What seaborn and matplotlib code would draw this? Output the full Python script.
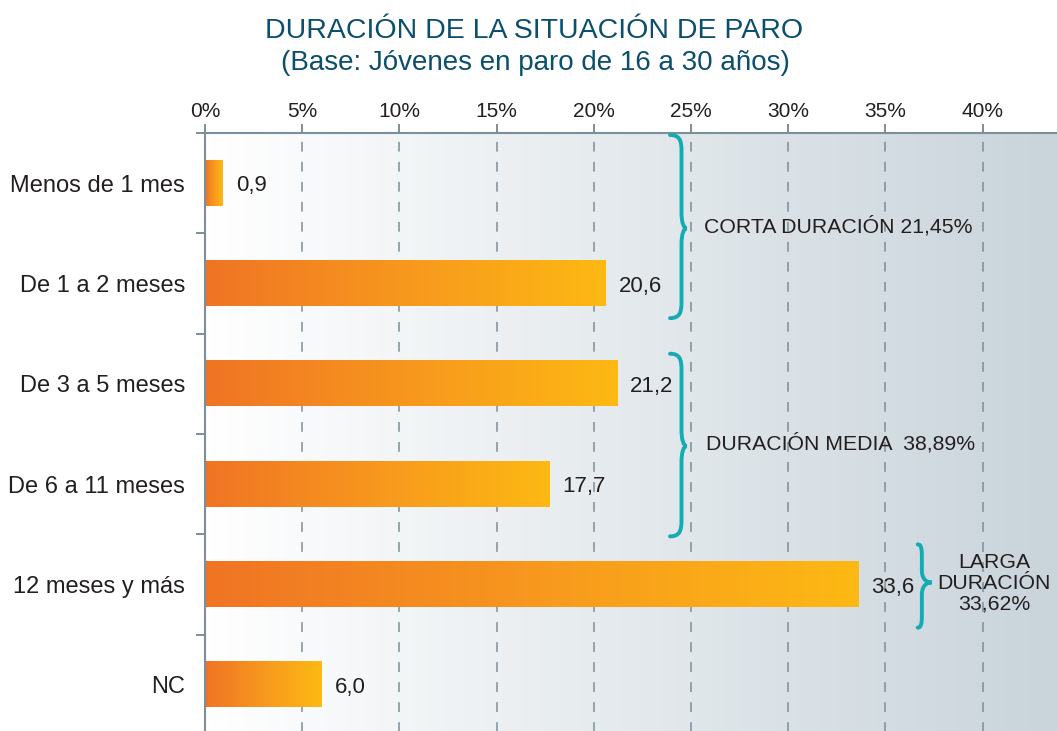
import numpy as np
import pandas as pd
import matplotlib
matplotlib.use("Agg")
import matplotlib.pyplot as plt
import seaborn as sns
from matplotlib.colors import LinearSegmentedColormap
from matplotlib.path import Path
from matplotlib.patches import PathPatch

# ---------------- data ----------------
categories = ["Menos de 1 mes", "De 1 a 2 meses", "De 3 a 5 meses",
              "De 6 a 11 meses", "12 meses y más", "NC"]
values = [0.9, 20.6, 21.2, 17.7, 33.6, 6.0]
x_ticks = [0, 5, 10, 15, 20, 25, 30, 35, 40]
x_tick_labels = ["0%", "5%", "10%", "15%", "20%", "25%", "30%", "35%", "40%"]
group_names = ["CORTA DURACIÓN", "DURACIÓN MEDIA", "LARGA\nDURACIÓN"]
group_pcts = [21.45, 38.89, 33.62]
title = "DURACIÓN DE LA SITUACIÓN DE PARO"
subtitle = "(Base: Jóvenes en paro de 16 a 30 años)"

# ---------------- style ----------------
sns.set_theme(style="white")
plt.rcParams['font.family'] = ['Liberation Sans', 'DejaVu Sans']

TEXT = "#231f20"
SPINE = "#7b8e9a"
TEAL = "#14abb2"
TITLE_C = "#0b4f6c"

W, H = 1057, 731
PX_PER_PCT = 19.44
fig = plt.figure(figsize=(W / 100, H / 100), dpi=100)
fig.patch.set_facecolor("white")
ax = fig.add_axes([205 / W, -4 / H, (W - 205) / W, (H - 133 + 4) / H])

df = pd.DataFrame({"cat": categories, "val": values})
sns.barplot(data=df, y="cat", x="val", orient="h", width=0.45, ax=ax,
            color="#f79a1d", zorder=3, saturation=1)

xmax = (W - 205) / PX_PER_PCT

# gradient bars
bar_cmap = LinearSegmentedColormap.from_list("bar", ["#f07424", "#f7981e", "#fdb913"])
grad = np.linspace(0, 1, 256).reshape(1, -1)
for p in list(ax.patches):
    x, y = p.get_x(), p.get_y()
    w, h = p.get_width(), p.get_height()
    ax.imshow(grad, cmap=bar_cmap, extent=[x, x + w, y + h, y], aspect="auto",
              zorder=3, interpolation="bicubic")
    p.set_visible(False)

# background gradient
bg_cmap = LinearSegmentedColormap.from_list("bg", ["#ffffff", "#c9d4db"])
ax.imshow(grad, cmap=bg_cmap, extent=[0, xmax, 5.5, -0.5], aspect="auto",
          zorder=0, interpolation="bicubic")

# grid
for xv in x_ticks[1:]:
    ax.axvline(xv, color=SPINE, lw=1.1, linestyle=(0, (6.4, 6.7)), zorder=1)

# value labels
for i, v in enumerate(values):
    ax.annotate(f"{v:.1f}".replace(".", ","), xy=(v, i), xytext=(9.5, -2),
                textcoords="offset points", va="center", ha="left",
                fontsize=16, color=TEXT, zorder=4)

# axes styling
ax.set_xlim(0, xmax)
ax.set_ylim(5.5, -0.5)
ax.set_xlabel("")
ax.set_ylabel("")
ax.xaxis.tick_top()
ax.set_xticks(x_ticks)
ax.set_xticklabels(x_tick_labels)
ax.tick_params(axis="x", which="major", top=True, bottom=False, length=6.5,
               width=1.4, color=SPINE, pad=2, labelsize=15, labelcolor=TEXT)
ax.set_yticks(range(len(categories)))
ax.set_yticklabels(categories)
ax.tick_params(axis="y", which="major", left=False, length=0, pad=14.4,
               labelsize=17, labelcolor=TEXT)
ax.set_yticks(np.arange(-0.5, len(categories) - 1, 1), minor=True)
ax.tick_params(axis="y", which="minor", left=True, length=6.5, width=1.4,
               color=SPINE)
for s in ["bottom", "right"]:
    ax.spines[s].set_visible(False)
for s in ["top", "left"]:
    ax.spines[s].set_visible(True)
    ax.spines[s].set_color(SPINE)
    ax.spines[s].set_linewidth(1.5)
    ax.spines[s].set_zorder(5)


def brace(ax, x0, width, y0, y1, ym, d, spine_frac=0.68):
    xs = x0 + spine_frac * width
    xt = x0 + width
    verts = [
        (x0, y0),
        (x0 + 0.85 * (xs - x0), y0), (xs, y0 + 0.35 * d), (xs, y0 + d),
        (xs, ym - d),
        (xs, ym - 0.35 * d), (xs + 0.4 * (xt - xs), ym), (xt, ym),
        (xs + 0.4 * (xt - xs), ym), (xs, ym + 0.35 * d), (xs, ym + d),
        (xs, y1 - d),
        (xs, y1 - 0.35 * d), (x0 + 0.85 * (xs - x0), y1), (x0, y1),
    ]
    codes = [Path.MOVETO,
             Path.CURVE4, Path.CURVE4, Path.CURVE4,
             Path.LINETO,
             Path.CURVE4, Path.CURVE4, Path.CURVE4,
             Path.CURVE4, Path.CURVE4, Path.CURVE4,
             Path.LINETO,
             Path.CURVE4, Path.CURVE4, Path.CURVE4]
    ax.add_patch(PathPatch(Path(verts, codes), fill=False, edgecolor=TEAL,
                           lw=2.8, capstyle="round", zorder=6, clip_on=False))


# braces (layout)
brace(ax, 23.92, 0.87, -0.48, 1.345, 0.45, 0.16)
brace(ax, 23.92, 0.87, 1.70, 3.52, 2.62, 0.16)
brace(ax, 36.66, 0.72, 3.60, 4.43, 3.98, 0.12, spine_frac=0.3)

ann_kw = dict(fontsize=15.3, color=TEXT, zorder=7)
ax.text(25.67, 0.43, f"{group_names[0]} " + f"{group_pcts[0]:.2f}%".replace(".", ","),
        ha="left", va="center", **ann_kw)
ax.text(25.77, 2.59, f"{group_names[1]}  " + f"{group_pcts[1]:.2f}%".replace(".", ","),
        ha="left", va="center", **ann_kw)
ax.text(40.59, 3.99, group_names[2] + "\n" + f"{group_pcts[2]:.2f}%".replace(".", ","),
        ha="center", va="center", linespacing=1.1, **ann_kw)

# titles
fig.text(534 / W, 1 - 38 / H, title, ha="center", va="baseline",
         fontsize=20.5, color=TITLE_C)
fig.text(535 / W, 1 - 70 / H, subtitle, ha="center", va="baseline",
         fontsize=20, color=TITLE_C)

fig.savefig("out.png", dpi=100)
